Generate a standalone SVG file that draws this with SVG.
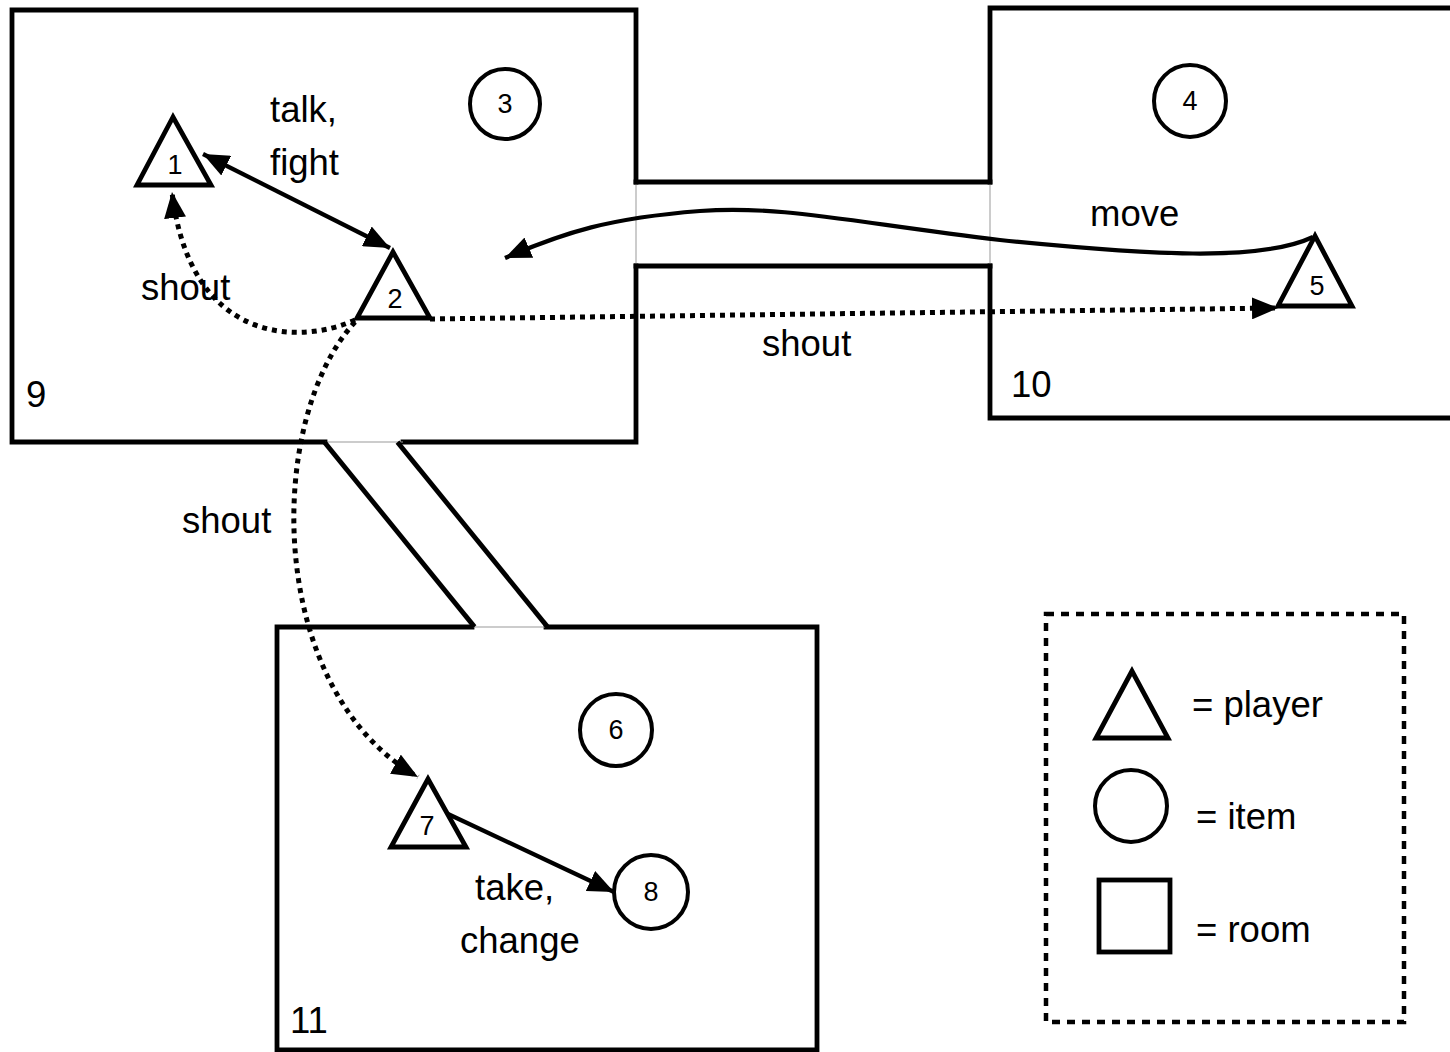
<svg xmlns="http://www.w3.org/2000/svg" width="1450" height="1052" viewBox="0 0 1450 1052">
<style>
.wall{fill:none;stroke:#000;stroke-width:4.8;stroke-linecap:square;stroke-linejoin:miter}
.door{fill:none;stroke:#999;stroke-width:1}
.shape{fill:#fff;stroke:#000;stroke-width:4.8}
.circ{fill:#fff;stroke:#000;stroke-width:4}
.lbl{font-family:"Liberation Sans",Arial,sans-serif;font-size:36.5px;fill:#000}
.num{font-family:"Liberation Sans",Arial,sans-serif;font-size:27px;fill:#000;text-anchor:middle}
.solid{fill:none;stroke:#000;stroke-width:4.2}
.dot{fill:none;stroke:#000;stroke-width:5;stroke-dasharray:5 5}
</style>
<defs>
<marker id="ah" viewBox="0 0 26 22" refX="26" refY="11" markerWidth="26" markerHeight="22" markerUnits="userSpaceOnUse" orient="auto-start-reverse">
<path d="M0,0 L26,11 L0,22 z" fill="#000"/>
</marker>
</defs>
<rect width="1450" height="1052" fill="#fff"/>

<g id="room9">
<path class="wall" d="M636,182 V10 H12 V442 H325 M403,442 H636 V266"/>
<line class="door" x1="636" y1="182" x2="636" y2="266"/>
<line class="door" x1="325" y1="442" x2="403" y2="442"/>
<text class="lbl" x="26" y="407">9</text>
</g>
<g id="room10">
<path class="wall" d="M990,182 V8 H1455 M1455,418 H990 V266"/>
<line class="door" x1="990" y1="182" x2="990" y2="266"/>
<text class="lbl" x="1011" y="397">10</text>
</g>
<g id="room11">
<path class="wall" d="M472,627 H277 V1050 H817 V627 H546"/>
<line class="door" x1="472" y1="627" x2="546" y2="627"/>
<text class="lbl" x="290" y="1033">11</text>
</g>
<g id="corridor-9-10">
<line class="wall" x1="636" y1="182" x2="990" y2="182"/>
<line class="wall" x1="636" y1="266" x2="990" y2="266"/>
</g>
<g id="corridor-9-11">
<line class="wall" x1="326" y1="444" x2="473" y2="625"/>
<line class="wall" x1="399" y1="444" x2="546" y2="625"/>
</g>

<g id="connectors">
<path class="solid" d="M1313,237 C1260,262 1150,255 1000,240 C850,222 780,205 700,211 C610,218 565,232 505,258" marker-end="url(#ah)"/>
<line class="solid" x1="203" y1="154" x2="390" y2="248" marker-start="url(#ah)" marker-end="url(#ah)"/>
<path class="dot" d="M355,320 C300,345 190,345 172,192" marker-end="url(#ah)"/>
<path class="dot" d="M355,322 C265,420 265,690 418,777" marker-end="url(#ah)"/>
<line class="dot" x1="430" y1="319" x2="1278" y2="308" marker-end="url(#ah)"/>
<line class="solid" x1="448" y1="814" x2="614" y2="892" marker-end="url(#ah)"/>
</g>

<g id="player1"><polygon class="shape" points="173,117 137,185 211,185"/><text class="num" x="175" y="174">1</text></g>
<g id="player2"><polygon class="shape" points="393,252 357,318 430,318"/><text class="num" x="395" y="308">2</text></g>
<g id="player5"><polygon class="shape" points="1315,236 1278,306 1352,306"/><text class="num" x="1317" y="295">5</text></g>
<g id="player7"><polygon class="shape" points="428,779 391,847 466,847"/><text class="num" x="427" y="835">7</text></g>
<g id="item3"><circle class="circ" cx="505" cy="104" r="35"/><text class="num" x="505" y="113">3</text></g>
<g id="item4"><circle class="circ" cx="1190" cy="101" r="36"/><text class="num" x="1190" y="110">4</text></g>
<g id="item6"><circle class="circ" cx="616" cy="730" r="36"/><text class="num" x="616" y="739">6</text></g>
<g id="item8"><circle class="circ" cx="651" cy="892" r="37"/><text class="num" x="651" y="901">8</text></g>

<g id="labels">
<text class="lbl" x="270" y="122">talk,</text>
<text class="lbl" x="270" y="175">fight</text>
<text class="lbl" x="141" y="300">shout</text>
<text class="lbl" x="762" y="356">shout</text>
<text class="lbl" x="182" y="533">shout</text>
<text class="lbl" x="1090" y="226">move</text>
<text class="lbl" x="475" y="900">take,</text>
<text class="lbl" x="460" y="953">change</text>
</g>

<g id="legend">
<rect x="1046" y="614" width="358" height="408" fill="none" stroke="#000" stroke-width="4.5" stroke-dasharray="8 7"/>
<polygon class="shape" points="1132,671 1096,738 1168,738"/>
<circle class="circ" cx="1131" cy="806" r="36"/>
<rect x="1099" y="880" width="71" height="72" fill="#fff" stroke="#000" stroke-width="4.8"/>
<text class="lbl" x="1192" y="717">= player</text>
<text class="lbl" x="1196" y="829">= item</text>
<text class="lbl" x="1196" y="942">= room</text>
</g>
</svg>
